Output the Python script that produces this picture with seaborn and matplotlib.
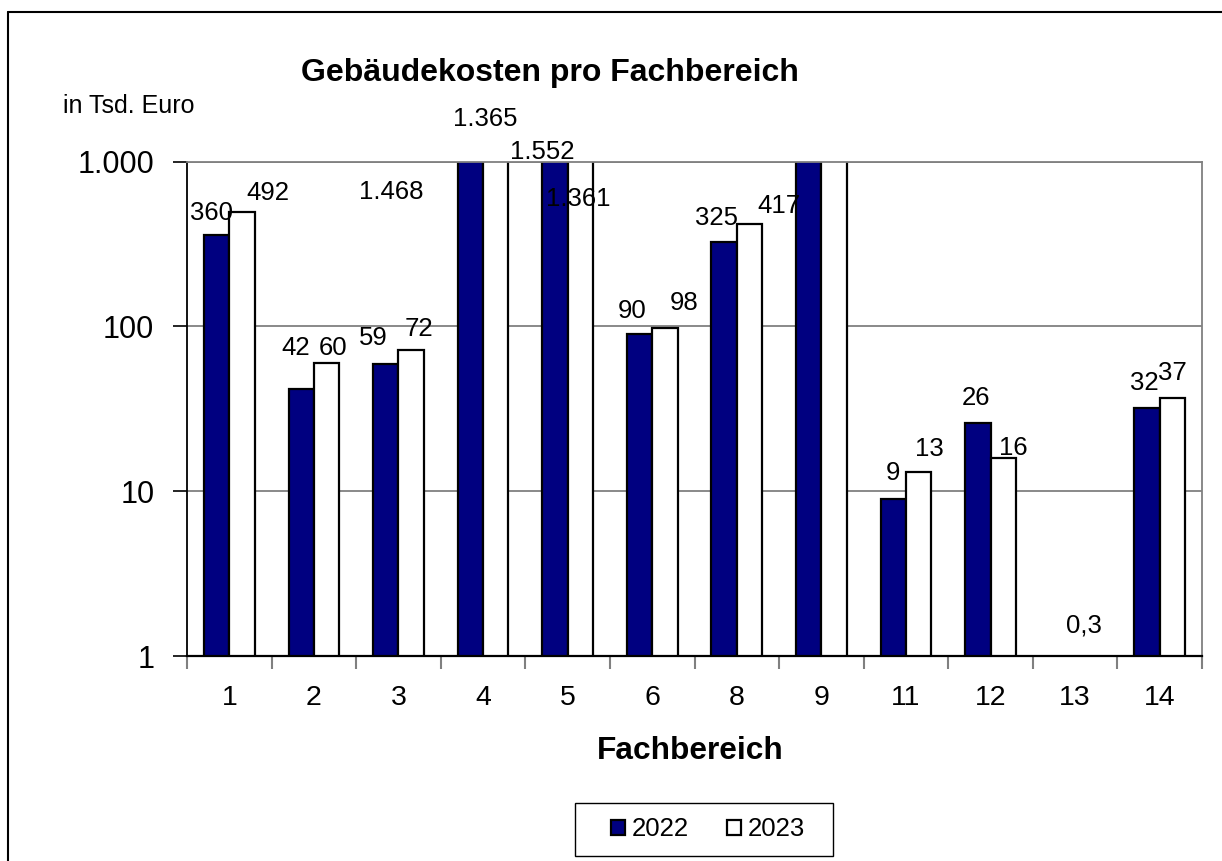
import matplotlib
matplotlib.use("Agg")
import matplotlib.pyplot as plt
from matplotlib import font_manager
from matplotlib.lines import Line2D
from matplotlib.patches import Rectangle
from matplotlib.ticker import NullLocator, FixedLocator
import seaborn as sns
import pandas as pd

# ---------------- data ----------------
categories = ["1", "2", "3", "4", "5", "6", "8", "9", "11", "12", "13", "14"]
values_2022 = [360, 42, 59, 1468, 1552, 90, 325, 1500, 9, 26, 0.3, 32]
values_2023 = [492, 60, 72, 1365, 1361, 98, 417, 1600, 13, 16, 0.3, 37]
show_label_2022 = [True, True, True, True, True, True, True, False, True, True, False, True]
show_label_2023 = [True, True, True, True, True, True, True, False, True, True, True, True]
years = ["2022", "2023"]
y_ticks = [1, 10, 100, 1000]
y_ticklabels = ["1", "10", "100", "1.000"]

# label offsets (pixels, relative to top-centre of visible bar)
label_off_2022 = [(-5, 22), (-6, 41), (-12, 26), (-79, -30), (-13, 10), (-7, 23),
                  (-8, 24), (0, 0), (0, 26), (-2, 25), (0, 0), (-3, 25)]
label_off_2023 = [(26, 19), (7, 15), (8, 21), (-10, 43), (-2, -37), (19, 25),
                  (29, 18), (0, 0), (11, 23), (10, 10), (-4, 30), (0, 25)]

df = pd.DataFrame({
    "Fachbereich": categories * 2,
    "Wert": values_2022 + values_2023,
    "Jahr": [years[0]] * len(categories) + [years[1]] * len(categories),
})

sns.set_style("white")
names = {f.name for f in font_manager.fontManager.ttflist}
base = "Liberation Sans" if "Liberation Sans" in names else "DejaVu Sans"
plt.rcParams["font.family"] = [base, "DejaVu Sans"]
for key in ["text.color", "axes.labelcolor", "xtick.color", "ytick.color"]:
    plt.rcParams[key] = "black"
if "Liberation Sans Narrow" in names:
    title_family, title_size = "Liberation Sans Narrow", 27.5
else:
    title_family, title_size = base, 23

W, H = 1222, 861
fig = plt.figure(figsize=(W / 100, H / 100), dpi=100)
fig.patch.set_facecolor("white")
ax = fig.add_axes([187 / W, 1 - 656 / H, (1202 - 187) / W, (656 - 161.7) / H])
ax.set_yscale("log")

sns.barplot(data=df, x="Fachbereich", y="Wert", hue="Jahr", order=categories,
            hue_order=years, palette={"2022": "#000080", "2023": "white"},
            edgecolor="black", linewidth=1.6, width=0.6, saturation=1,
            ax=ax, legend=True)

ax.set_ylim(1, 1000)
ax.set_xlim(-0.5, len(categories) - 0.5)
ax.yaxis.set_major_locator(FixedLocator(y_ticks))
ax.set_yticklabels(y_ticklabels)
ax.yaxis.set_minor_locator(NullLocator())
ax.tick_params(axis="y", which="major", length=10, width=1.2, color="black",
               labelcolor="black", labelsize=22, pad=13.5, direction="out", left=True)
ax.xaxis.set_minor_locator(FixedLocator([i - 0.5 for i in range(len(categories) + 1)]))
ax.tick_params(axis="x", which="major", length=0, labelsize=20.5, pad=21,
               labelcolor="black")
ax.tick_params(axis="x", which="minor", length=9, width=1.5, color="#808080",
               direction="out", bottom=True)
ax.set_xlabel("")
ax.set_ylabel("")

ax.yaxis.grid(True, which="major", color="#808080", linewidth=1.3)
ax.set_axisbelow(True)
for side in ["top", "right"]:
    ax.spines[side].set_color("#808080")
    ax.spines[side].set_linewidth(1.3)
ax.spines["left"].set_color("black")
ax.spines["left"].set_linewidth(1.3)
ax.spines["bottom"].set_color("black")
ax.spines["bottom"].set_linewidth(1.6)


def fmt(v):
    if v >= 1000:
        return f"{v:,.0f}".replace(",", ".")
    if v < 1:
        return f"{v:.1f}".replace(".", ",")
    return f"{v:.0f}"


for cont, vals, shows, offs in zip(ax.containers,
                                   [values_2022, values_2023],
                                   [show_label_2022, show_label_2023],
                                   [label_off_2022, label_off_2023]):
    for bar, v, s, (dx, dy) in zip(cont.patches, vals, shows, offs):
        if not s:
            continue
        xc = bar.get_x() + bar.get_width() / 2
        yv = min(max(v, 1), 1000)
        ax.annotate(fmt(v), (xc, yv), xytext=(dx, dy), textcoords="offset pixels",
                    ha="center", va="center", fontsize=18.5, color="black",
                    annotation_clip=False)

# legend
handles, labels = ax.get_legend_handles_labels()
ax.get_legend().remove()
leg = fig.legend(handles, labels, loc="center", bbox_to_anchor=(708 / W, 1 - 829.5 / H),
                 ncol=2, frameon=False, fontsize=18.5,
                 handlelength=0.55, handleheight=0.55, handletextpad=0.27,
                 columnspacing=1.45, borderpad=0.4, borderaxespad=0)
for h in leg.legend_handles:
    h.set_edgecolor("black")
    h.set_linewidth(1.6)
fig.add_artist(Rectangle((575 / W, 1 - 856 / H), 258 / W, 53 / H,
                         transform=fig.transFigure, facecolor="none",
                         edgecolor="black", linewidth=1.0))

# titles / labels
fig.text(550 / W, 1 - 81 / H, "Gebäudekosten pro Fachbereich", ha="center", va="baseline",
         fontsize=title_size, fontweight="bold", family=[title_family, "DejaVu Sans"])
fig.text(63 / W, 1 - 113 / H, "in Tsd. Euro", ha="left", va="baseline", fontsize=18)
fig.text(690 / W, 1 - 759 / H, "Fachbereich", ha="center", va="baseline",
         fontsize=22.8, fontweight="bold")

# outer frame
fig.add_artist(Line2D([8 / W, 8 / W], [0, 1 - 12 / H], transform=fig.transFigure,
                      color="black", linewidth=1.5))
fig.add_artist(Line2D([8 / W, 1], [1 - 12 / H, 1 - 12 / H], transform=fig.transFigure,
                      color="black", linewidth=1.5))

fig.savefig("out.png", dpi=100, facecolor="white")
